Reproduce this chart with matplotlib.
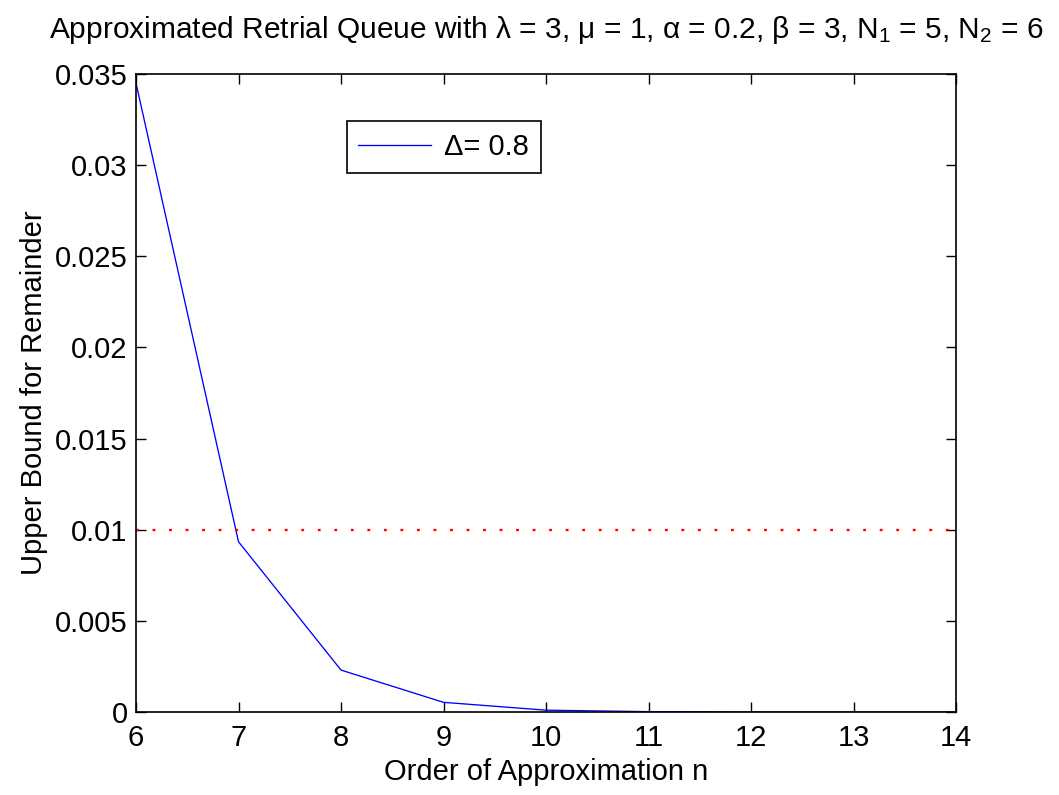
import matplotlib.pyplot as plt
from matplotlib.ticker import FuncFormatter

plt.rcParams['font.family'] = ['Liberation Sans', 'DejaVu Sans']
plt.rcParams['mathtext.fontset'] = 'custom'
plt.rcParams['mathtext.rm'] = 'Liberation Sans'
plt.rcParams['mathtext.it'] = 'Liberation Sans'

# order of approximation and the upper bound of the remainder
order_n = [6, 7, 8, 9, 10, 11, 12, 13, 14]
bound = [0.0345, 0.00934, 0.0023, 0.00053, 0.0001, 0.00002, 0.0, 0.0, 0.0]
tolerance = 0.01
x_ticks = [6, 7, 8, 9, 10, 11, 12, 13, 14]
y_ticks = [0, 0.005, 0.01, 0.015, 0.02, 0.025, 0.03, 0.035]

fs = 21

fig = plt.figure(figsize=(10.59, 7.95), dpi=100)
ax = fig.add_axes([136 / 1059, 83 / 795, 820 / 1059, 638 / 795])

ax.plot(order_n, bound, color='blue', lw=0.95, label='\u0394= 0.8')
ax.axhline(tolerance, color='red', lw=1.7, linestyle=(0, (1.2, 5.8)))

ax.set_xlim(6, 14)
ax.set_ylim(0, 0.035)
ax.set_xticks(x_ticks)
ax.set_yticks(y_ticks)
ax.yaxis.set_major_formatter(FuncFormatter(lambda v, p: '%g' % v))
ax.tick_params(direction='in', length=7, width=1, labelsize=fs,
               top=True, right=True)
ax.tick_params(axis='x', pad=9)
ax.tick_params(axis='y', pad=6)
for s in ax.spines.values():
    s.set_linewidth(1.2)

ax.set_xlabel('Order of Approximation n', fontsize=fs, labelpad=4)
ax.set_ylabel('Upper Bound for Remainder', fontsize=fs, labelpad=5)
ax.set_title(r'Approximated Retrial Queue with $\lambda$ = 3, $\mu$ = 1, '
             r'$\alpha$ = 0.2, $\beta$ = 3, N$_1$ = 5, N$_2$ = 6',
             fontsize=21.5, pad=26)

leg = ax.legend(loc='upper left', bbox_to_anchor=(0.257, 0.926),
                fontsize=fs, fancybox=False, edgecolor='black',
                framealpha=1, handlelength=2.5, handletextpad=0.45,
                borderpad=0.4, borderaxespad=0)
leg.get_frame().set_linewidth(1.2)

fig.savefig('out.png', dpi=100)
